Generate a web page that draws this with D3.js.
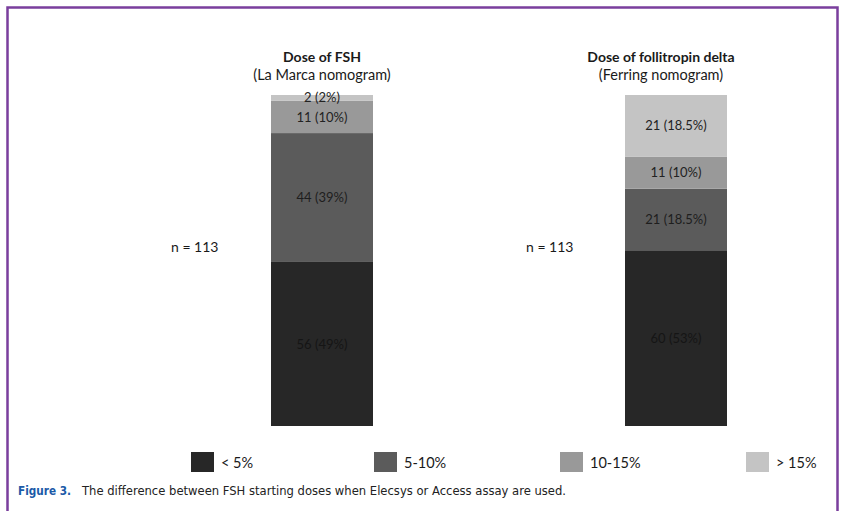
<!DOCTYPE html>
<html>
<head>
<meta charset="utf-8">
<script src="https://cdn.jsdelivr.net/npm/d3@7"></script>
<style>
  html, body { margin: 0; padding: 0; background: #fff; }
  svg { display: block; }
  text { font-family: Lato, "Open Sans", sans-serif; }
  text.caption { font-family: "DejaVu Sans Condensed", "Liberation Sans Narrow", sans-serif; }
</style>
</head>
<body>
<svg id="chart" width="843" height="511"></svg>
<script>
// Starting-dose change categories (stack order, bottom to top)
const categories = ["< 5%", "5-10%", "10-15%", "> 15%"];
const categoryColors = ["#272727", "#5b5b5b", "#999999", "#c4c4c4"];

// Two nomograms, counts per category
const groups = ["fsh", "ferring"];
const groupTitles = ["Dose of FSH", "Dose of follitropin delta"];
const groupSubtitles = ["(La Marca nomogram)", "(Ferring nomogram)"];
const fshCounts = [56, 44, 11, 2];
const fshPercents = ["49%", "39%", "10%", "2%"];
const ferringCounts = [60, 21, 11, 21];
const ferringPercents = ["53%", "18.5%", "10%", "18.5%"];
const totals = [113, 113];

const countsByGroup = [fshCounts, ferringCounts];
const percentsByGroup = [fshPercents, ferringPercents];

const svg = d3.select("#chart");

// Frame
svg.append("rect")
  .attr("x", 7.5).attr("y", 7.5)
  .attr("width", 830).attr("height", 520)
  .attr("fill", "none")
  .attr("stroke", "#7a3e9d")
  .attr("stroke-width", 2.5);

// Scales
const x = d3.scaleOrdinal().domain(groups).range([271, 625]);
const barWidth = 102;
const y = d3.scaleLinear().domain([0, 113]).range([426, 95]);
const color = d3.scaleOrdinal().domain(categories).range(categoryColors);

// Build stacked segments
const rows = groups.map((g, gi) => {
  const r = { group: g };
  categories.forEach((c, ci) => { r[c] = countsByGroup[gi][ci]; });
  return r;
});
const stack = d3.stack().keys(categories)(rows);

const labelColors = ["#151515", "#1e1e1e", "#222222", "#222222"];

stack.forEach((layer, ci) => {
  layer.forEach((seg, gi) => {
    const g = groups[gi];
    svg.append("rect")
      .attr("x", x(g))
      .attr("y", y(seg[1]))
      .attr("width", barWidth)
      .attr("height", y(seg[0]) - y(seg[1]))
      .attr("fill", color(categories[ci]));
    svg.append("text")
      .attr("x", x(g) + barWidth / 2)
      .attr("y", (y(seg[0]) + y(seg[1])) / 2)
      .attr("dy", "0.35em")
      .attr("text-anchor", "middle")
      .attr("font-size", 13)
      .attr("fill", labelColors[ci])
      .text(`${countsByGroup[gi][ci]} (${percentsByGroup[gi][ci]})`);
  });
});

// Titles
const titleCenters = [322, 661];
groups.forEach((g, gi) => {
  svg.append("text")
    .attr("x", titleCenters[gi]).attr("y", 62)
    .attr("text-anchor", "middle")
    .attr("font-size", 14).attr("font-weight", "bold")
    .attr("fill", "#1a1a1a")
    .text(groupTitles[gi]);
  svg.append("text")
    .attr("x", titleCenters[gi]).attr("y", 80)
    .attr("text-anchor", "middle")
    .attr("font-size", 14.5)
    .attr("fill", "#1a1a1a")
    .text(groupSubtitles[gi]);
});

// n labels
const nX = [171, 526];
groups.forEach((g, gi) => {
  svg.append("text")
    .attr("x", nX[gi]).attr("y", 247).attr("dy", "0.35em")
    .attr("font-size", 14).attr("fill", "#1a1a1a")
    .text(`n = ${totals[gi]}`);
});

// Legend
const legendX = [191, 374, 560, 746];
categories.forEach((c, ci) => {
  svg.append("rect")
    .attr("x", legendX[ci]).attr("y", 452)
    .attr("width", 23).attr("height", 20)
    .attr("fill", color(c));
  svg.append("text")
    .attr("x", legendX[ci] + 30).attr("y", 463).attr("dy", "0.35em")
    .attr("font-size", 14.5).attr("fill", "#1a1a1a")
    .text(c);
});

// Caption
svg.append("text")
  .attr("class", "caption")
  .attr("x", 18).attr("y", 495)
  .attr("font-size", 13).attr("font-weight", "bold")
  .attr("fill", "#1b5aa8")
  .attr("textLength", 53).attr("lengthAdjust", "spacingAndGlyphs")
  .text("Figure 3.");
svg.append("text")
  .attr("class", "caption")
  .attr("x", 82).attr("y", 495)
  .attr("font-size", 13)
  .attr("fill", "#222")
  .attr("textLength", 484).attr("lengthAdjust", "spacingAndGlyphs")
  .text("The difference between FSH starting doses when Elecsys or Access assay are used.");
</script>
</body>
</html>
